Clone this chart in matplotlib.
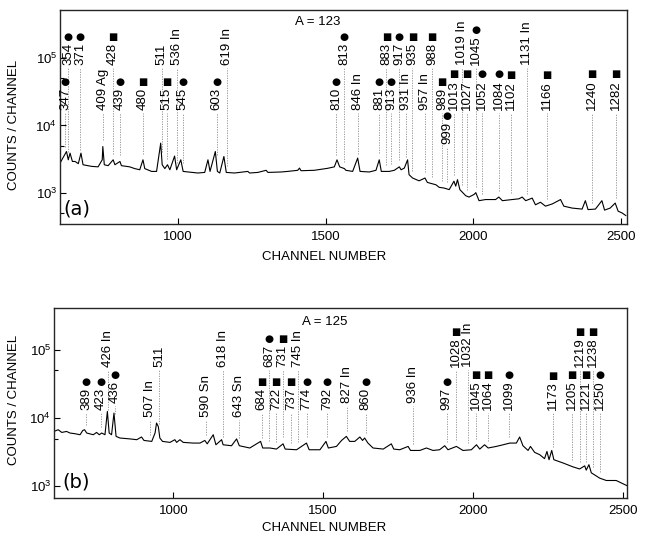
import numpy as np
import matplotlib
matplotlib.use("Agg")
import matplotlib.pyplot as plt
from matplotlib.ticker import FixedLocator, NullFormatter
from matplotlib.transforms import blended_transform_factory

plt.rcParams['font.family'] = ['Liberation Sans', 'DejaVu Sans']
plt.rcParams['mathtext.fontset'] = 'custom'
plt.rcParams['mathtext.rm'] = 'Liberation Sans'
plt.rcParams['mathtext.it'] = 'Liberation Sans:italic'

# ---------------- data: panel (a) A = 123 ----------------
a_channels = [600, 622, 628, 634, 642, 651, 662, 671, 678, 707, 729, 743, 745, 750, 763, 780, 786,
              803, 808, 825, 836, 853, 870, 881, 887, 910, 927, 941, 946, 955, 964, 972, 988, 995,
              1009, 1017, 1034, 1067, 1090, 1101, 1108, 1126, 1133, 1141, 1155, 1163, 1191, 1236,
              1242, 1270, 1298, 1304, 1349, 1371, 1405, 1411, 1416, 1461, 1506, 1529, 1538, 1547,
              1563, 1568, 1591, 1608, 1616, 1647, 1670, 1681, 1688, 1715, 1732, 1749, 1755, 1766,
              1777, 1782, 1794, 1816, 1836, 1844, 1873, 1884, 1901, 1918, 1934, 1940, 1946, 1954,
              1974, 1985, 2002, 2008, 2019, 2041, 2075, 2086, 2098, 2131, 2154, 2165, 2177, 2199,
              2210, 2227, 2244, 2267, 2295, 2306, 2334, 2368, 2379, 2388, 2413, 2435, 2444, 2463,
              2480, 2490, 2503, 2516]
a_counts = [2750, 4090, 3080, 3870, 2910, 2910, 2700, 3870, 2600, 2460, 2420, 3080, 4850, 2600, 2520,
            3080, 2600, 2910, 2520, 2460, 2420, 2280, 2190, 3080, 2280, 2070, 2070, 5450, 2600, 2280,
            2600, 2190, 3500, 2190, 3080, 2070, 2030, 1960, 2000, 3080, 2070, 4090, 2070, 1960, 3450,
            2000, 1960, 2070, 1960, 2000, 2150, 2000, 2030, 2070, 2150, 2320, 2120, 2150, 2300, 2420,
            3080, 2420, 2280, 2150, 2070, 3270, 2070, 2030, 2150, 3080, 2070, 2070, 2150, 2420, 2190,
            2320, 3080, 1850, 1650, 1500, 1650, 1420, 1310, 1200, 1170, 1110, 1480, 1250, 1560, 1110,
            900, 860, 940, 1000, 760, 790, 790, 860, 760, 790, 810, 860, 760, 830, 660, 720, 630, 680,
            790, 630, 590, 570, 760, 560, 570, 760, 550, 590, 700, 530, 500, 457]

a_label_text = ["354", "371", "428", "511", "536 In", "619 In", "813", "883", "917", "935",
                "988", "1019 In", "1045", "1131 In",
                "347", "409 Ag", "439", "480", "515", "545", "603", "810", "846 In", "881",
                "913", "931 In", "957 In", "989", "1013", "1027", "1052", "1084", "1102",
                "1166", "1240", "1282",
                "999"]
a_label_sym = ["●", "●", "■", "", "", "", "●", "■", "●", "■",
               "■", "", "●", "",
               "●", "", "●", "■", "■", "●", "●", "●", "", "●",
               "●", "", "", "■", "■", "■", "●", "●", "■",
               "■", "■", "■",
               "●"]
a_label_ch = [627, 668, 779, 945, 995, 1164, 1563, 1705, 1749, 1793, 1860, 1961, 2009, 2181,
              617, 745, 803, 880, 961, 1016, 1130, 1536, 1610, 1681, 1722, 1772, 1836, 1894, 1934,
              1978, 2029, 2086, 2127, 2249, 2401, 2482,
              1911]
a_label_row = [0] * 14 + [1] * 22 + [2]

# ---------------- data: panel (b) A = 125 ----------------
b_channels = [602, 616, 628, 644, 655, 672, 689, 698, 704, 711, 733, 744, 753, 761, 772, 780, 786,
              794, 802, 809, 822, 855, 878, 894, 902, 928, 939, 944, 950, 955, 964, 989, 1005, 1011,
              1022, 1033, 1066, 1089, 1105, 1113, 1133, 1142, 1161, 1166, 1194, 1211, 1220, 1255,
              1291, 1298, 1322, 1344, 1366, 1373, 1411, 1444, 1453, 1489, 1509, 1517, 1544, 1561,
              1577, 1588, 1605, 1622, 1631, 1638, 1649, 1666, 1700, 1727, 1735, 1755, 1783, 1791,
              1822, 1844, 1866, 1888, 1905, 1916, 1944, 1966, 1994, 2011, 2022, 2038, 2050, 2077,
              2100, 2122, 2144, 2155, 2166, 2183, 2191, 2205, 2222, 2238, 2246, 2253, 2262, 2269,
              2300, 2333, 2355, 2372, 2377, 2386, 2394, 2422, 2444, 2477, 2500, 2513]
b_counts = [6380, 6760, 6170, 6380, 6050, 5910, 5710, 6600, 6760, 6050, 5710, 6170, 5710, 6050, 5710,
            12530, 6050, 5710, 11860, 5400, 5110, 4960, 4830, 5290, 4710, 4560, 6050, 8470, 7500,
            5110, 4560, 4410, 4830, 4410, 4830, 4410, 4310, 4310, 4710, 4200, 5710, 4070, 4830, 4070,
            3940, 4960, 3940, 3650, 4560, 3650, 3650, 3520, 4200, 3520, 3440, 4310, 3440, 3440, 4560,
            3650, 3850, 4710, 5400, 4560, 4560, 5290, 4710, 5110, 4310, 3650, 3520, 4200, 3520, 3440,
            3850, 3360, 3360, 3650, 3360, 3440, 3940, 3440, 3850, 3360, 3440, 4070, 3520, 4070, 3650,
            3850, 4070, 4310, 4310, 5290, 3940, 3360, 3850, 3150, 2910, 2550, 3250, 2460, 3360, 2460,
            2200, 1930, 1800, 2000, 1730, 2080, 1580, 1320, 1220, 1220, 1090, 1025]

b_label_text = ["426 In", "511", "618 In", "687", "731", "745 In", "1028", "1032 In", "1219", "1238",
                "389", "423", "684", "722", "737", "774", "792", "860", "997", "1045",
                "1064", "1099", "1173", "1205", "1221", "1250",
                "436", "827 In", "936 In",
                "507 In", "590 Sn", "643 Sn"]
b_label_sym = ["", "", "", "●", "■", "", "■", "", "■", "■",
               "●", "●", "■", "■", "■", "●", "●", "●", "●", "■",
               "■", "●", "■", "■", "■", "●",
               "●", "", "",
               "", "", ""]
b_label_ch = [782, 952, 1165, 1319, 1365, 1415, 1942, 1982, 2355, 2399,
              709, 759, 1295, 1342, 1392, 1445, 1512, 1642, 1912, 2009, 2049, 2119, 2265, 2329,
              2375, 2422,
              805, 1579, 1799,
              922, 1109, 1219]
b_label_row = [0] * 10 + [1] * 16 + [2] * 3 + [3] * 3

x_ticks = [1000, 1500, 2000, 2500]
x_tick_labels = ["1000", "1500", "2000", "2500"]
y_ticks = [1e3, 1e4, 1e5]
y_tick_labels = [r"$10^3$", r"$10^4$", r"$10^5$"]

# ---------------- figure ----------------
W, H = 652, 537
fig = plt.figure(figsize=(W / 100, H / 100), dpi=100)
fig.patch.set_facecolor('white')

panels = [
    dict(rect=[60 / W, (H - 224) / H, (627 - 60) / W, 214 / H], xlim=(600, 2520), ylim=(342, 5.2e5),
         ch=a_channels, cnt=a_counts, lt=a_label_text, ls=a_label_sym, lc=a_label_ch, lr=a_label_row,
         rows={0: 0.743, 1: 0.535, 2: 0.375}, title="A = 123", title_xy=(0.455, 0.944),
         tag="(a)", tag_xy=(0.006, 0.07), ylab_y=(H - 125) / H, xlab_y=(H - 257) / H),
    dict(rect=[54 / W, (H - 498) / H, (627 - 54) / W, 190 / H], xlim=(602, 2513), ylim=(676, 4.1e5),
         ch=b_channels, cnt=b_counts, lt=b_label_text, ls=b_label_sym, lc=b_label_ch, lr=b_label_row,
         rows={0: 0.69, 1: 0.463, 2: 0.50, 3: 0.425}, title="A = 125", title_xy=(0.473, 0.926),
         tag="(b)", tag_xy=(0.015, 0.085), ylab_y=(H - 400) / H, xlab_y=(H - 528) / H),
]

label_family = ['Liberation Sans Narrow', 'Liberation Sans', 'DejaVu Sans']

for p in panels:
    ax = fig.add_axes(p['rect'])
    ax.set_yscale('log')
    ax.set_xlim(*p['xlim'])
    ax.set_ylim(*p['ylim'])
    ax.plot(p['ch'], p['cnt'], color='black', lw=0.8)

    ax.xaxis.set_major_locator(FixedLocator(x_ticks))
    ax.set_xticklabels(x_tick_labels)
    ax.yaxis.set_major_locator(FixedLocator(y_ticks))
    ax.set_yticklabels(y_tick_labels)
    ax.yaxis.set_minor_locator(FixedLocator([5e2, 5e3, 5e4]))
    ax.yaxis.set_minor_formatter(NullFormatter())
    ax.xaxis.set_minor_locator(FixedLocator([]))
    ax.tick_params(axis='both', which='major', direction='in', length=4, width=0.8, labelsize=9.5)
    ax.tick_params(axis='y', which='major', pad=2)
    ax.tick_params(axis='x', which='major', pad=5)
    ax.tick_params(axis='y', which='minor', direction='in', length=3, width=0.8)
    for s in ax.spines.values():
        s.set_linewidth(1.0)
        s.set_color('0.15')

    trans = blended_transform_factory(ax.transData, ax.transAxes)
    lo, hi = np.log10(p['ylim'][0]), np.log10(p['ylim'][1])
    for txt, sym, c, r in zip(p['lt'], p['ls'], p['lc'], p['lr']):
        yb = p['rows'][r]
        t = ax.text(c, yb, txt, rotation=90, ha='center', va='bottom', transform=trans,
                    fontsize=9.5, family=label_family, color='black')
        if sym:
            ax.annotate(sym, xy=(0.5, 1.0), xycoords=t, xytext=(0, 0.3), textcoords='offset points',
                        ha='center', va='bottom', fontsize=7.5 if sym == "●" else 7.0,
                        family='DejaVu Sans', color='black')
        # connecting line from label down to spectrum
        ytop = 10 ** (lo + (yb - 0.015) * (hi - lo))
        yspec = np.interp(c, p['ch'], p['cnt']) * 1.25
        if ytop > yspec:
            ax.plot([c, c], [yspec, ytop], color='0.55', lw=0.6, ls=(0, (1.5, 1.5)))

    ax.text(p['title_xy'][0], p['title_xy'][1], p['title'], transform=ax.transAxes,
            ha='center', va='center', fontsize=9.5)
    ax.text(p['tag_xy'][0], p['tag_xy'][1], p['tag'], transform=ax.transAxes,
            ha='left', va='center', fontsize=14, family='DejaVu Sans')
    fig.text(14 / W, p['ylab_y'], "COUNTS / CHANNEL", rotation=90, ha='center', va='center',
             fontsize=9.5)
    fig.text(324 / W, p['xlab_y'], "CHANNEL NUMBER", ha='center', va='center', fontsize=9.5)

fig.savefig("out.png", dpi=100, facecolor='white')
